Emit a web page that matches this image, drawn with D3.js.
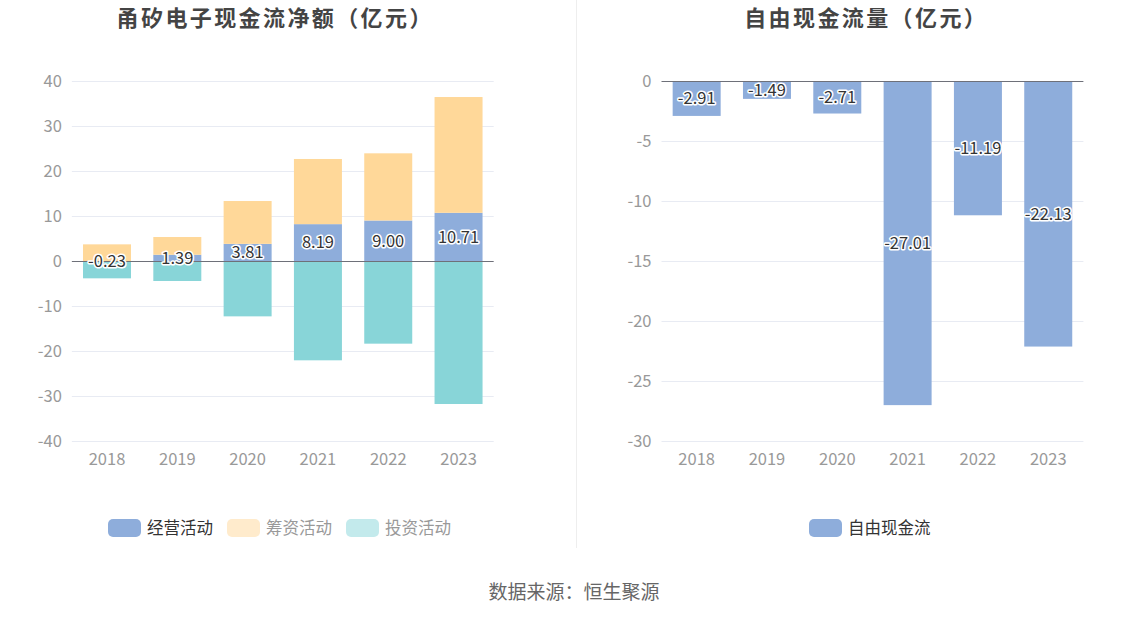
<!DOCTYPE html>
<html><head><meta charset="utf-8">
<script src="https://cdn.jsdelivr.net/npm/d3@7/dist/d3.min.js"></script>
<style>
body{margin:0;background:#fff;}
svg{display:block;font-family:"Noto Sans CJK SC","Noto Sans",sans-serif;}
</style></head>
<body>
<svg id="c" width="1148" height="619"></svg>
<script>
const years = ['2018','2019','2020','2021','2022','2023'];
const operating = [-0.23, 1.39, 3.81, 8.19, 9.00, 10.71];
const financing = [3.70, 3.94, 9.52, 14.48, 14.93, 25.73];
const investing = [-3.62, -4.44, -12.30, -22.07, -18.37, -31.78];
const freeCash = [-2.91, -1.49, -2.71, -27.01, -11.19, -22.13];
const leftTicks = [40, 30, 20, 10, 0, -10, -20, -30, -40];
const rightTicks = [0, -5, -10, -15, -20, -25, -30];
const seriesNames = ['经营活动', '筹资活动', '投资活动'];
const freeName = '自由现金流';

const colors = {op:'#8eaddb', fin:'#ffd899', inv:'#88d5d8'};
const svg = d3.select('#c');
const TICK_FS = 16.5;

// divider
svg.append('line').attr('x1',576.5).attr('x2',576.5).attr('y1',0).attr('y2',548)
  .attr('stroke','#eeeeee').attr('stroke-width',1);

// titles
svg.append('text').attr('x',274+1.2).attr('y',26).attr('text-anchor','middle')
  .attr('font-size',22).attr('font-weight','bold').attr('letter-spacing',2.4).attr('fill','#444').text('甬矽电子现金流净额（亿元）');
svg.append('text').attr('x',865+1.2).attr('y',26).attr('text-anchor','middle')
  .attr('font-size',22).attr('font-weight','bold').attr('letter-spacing',2.4).attr('fill','#444').text('自由现金流量（亿元）');

function drawAxes(g, x, y, ticks, x0, x1){
  ticks.forEach(t=>{
    g.append('line').attr('x1',x0).attr('x2',x1).attr('y1',Math.round(y(t))+0.5).attr('y2',Math.round(y(t))+0.5)
      .attr('stroke', '#e8ebf3').attr('stroke-width',1);
    g.append('text').attr('x',x0-10).attr('y',y(t)).attr('dy','0.35em').attr('text-anchor','end')
      .attr('font-size',TICK_FS).attr('fill','#999').text(t);
  });
  years.forEach(yr=>{
    g.append('text').attr('x',x(yr)+x.bandwidth()/2).attr('y',459).attr('dy','0.35em')
      .attr('text-anchor','middle').attr('font-size',TICK_FS).attr('fill','#999').text(yr);
  });
}

function label(g, xx, yy, txt){
  g.append('text').attr('x',xx).attr('y',yy).attr('dy','0.35em').attr('text-anchor','middle')
    .attr('font-size',16.5).attr('fill','#333').attr('stroke','#fff').attr('stroke-width',3)
    .attr('stroke-linejoin','round').attr('paint-order','stroke').text(txt);
}

// LEFT chart
{
  const x = d3.scaleBand().domain(years).range([71.85, 493.7]);
  const y = d3.scaleLinear().domain([-40, 40]).range([441, 81]);
  const g = svg.append('g');
  const gridG = g.append('g');
  const barG = g.append('g');
  const zeroG = g.append('g');
  drawAxes(gridG, x, y, leftTicks.filter(t=>t!==0), 71.85, 493.7);
  const rows = years.map((yr,i)=>({year:yr, op:operating[i], fin:financing[i], inv:investing[i]}));
  const stack = d3.stack().keys(['op','fin','inv']).offset(d3.stackOffsetDiverging);
  const stacked = stack(rows);
  const bw = 48;
  stacked.forEach(s=>{
    barG.selectAll(null).data(s).enter().append('rect')
      .attr('x', d=>x(d.data.year)+x.bandwidth()/2-bw/2)
      .attr('width', bw)
      .attr('y', d=>y(Math.max(d[0],d[1])))
      .attr('height', d=>Math.abs(y(d[0])-y(d[1])))
      .attr('fill', colors[s.key]);
  });
  zeroG.append('line').attr('x1',71.85).attr('x2',493.7).attr('y1',Math.round(y(0))+0.5).attr('y2',Math.round(y(0))+0.5)
    .attr('stroke','#6e7079');
  zeroG.append('text').attr('x',61.85).attr('y',y(0)).attr('dy','0.35em').attr('text-anchor','end')
      .attr('font-size',TICK_FS).attr('fill','#999').text(0);
  stacked[0].forEach(d=>{
    label(zeroG, x(d.data.year)+x.bandwidth()/2, (y(d[0])+y(d[1]))/2, d.data.op.toFixed(2));
  });
}

// RIGHT chart
{
  const x = d3.scaleBand().domain(years).range([661.5, 1083.4]);
  const y = d3.scaleLinear().domain([-30, 0]).range([441, 81]);
  const g = svg.append('g');
  const gridG = g.append('g');
  const barG = g.append('g');
  const zeroG = g.append('g');
  drawAxes(gridG, x, y, rightTicks.filter(t=>t!==0), 661.5, 1083.4);
  const bw = 48;
  barG.selectAll(null).data(freeCash).enter().append('rect')
    .attr('x', (d,i)=>x(years[i])+x.bandwidth()/2-bw/2)
    .attr('width', bw)
    .attr('y', d=>y(Math.max(0,d)))
    .attr('height', d=>Math.abs(y(d)-y(0)))
    .attr('fill', colors.op);
  zeroG.append('line').attr('x1',661.5).attr('x2',1083.4).attr('y1',Math.round(y(0))+0.5).attr('y2',Math.round(y(0))+0.5)
    .attr('stroke','#6e7079');
  zeroG.append('text').attr('x',651.5).attr('y',y(0)).attr('dy','0.35em').attr('text-anchor','end')
      .attr('font-size',TICK_FS).attr('fill','#999').text(0);
  freeCash.forEach((d,i)=>{
    label(zeroG, x(years[i])+x.bandwidth()/2, (y(0)+y(d))/2, d.toFixed(2));
  });
}

// legends
function legendItem(xIcon, name, iconColor, textColor){
  svg.append('rect').attr('x',xIcon).attr('y',519).attr('width',33).attr('height',18).attr('rx',5)
    .attr('fill',iconColor);
  svg.append('text').attr('x',xIcon+39).attr('y',528).attr('dy','0.35em').attr('font-size',16.5)
    .attr('fill',textColor).text(name);
}
legendItem(108, seriesNames[0], colors.op, '#333');
legendItem(227, seriesNames[1], '#ffebcc', '#999');
legendItem(346, seriesNames[2], '#c3eaec', '#999');
legendItem(809, freeName, colors.op, '#333');

// source
svg.append('text').attr('x',574).attr('y',592).attr('dy','0.35em').attr('text-anchor','middle')
  .attr('font-size',19).attr('fill','#666').text('数据来源：恒生聚源');
</script>
</body></html>
